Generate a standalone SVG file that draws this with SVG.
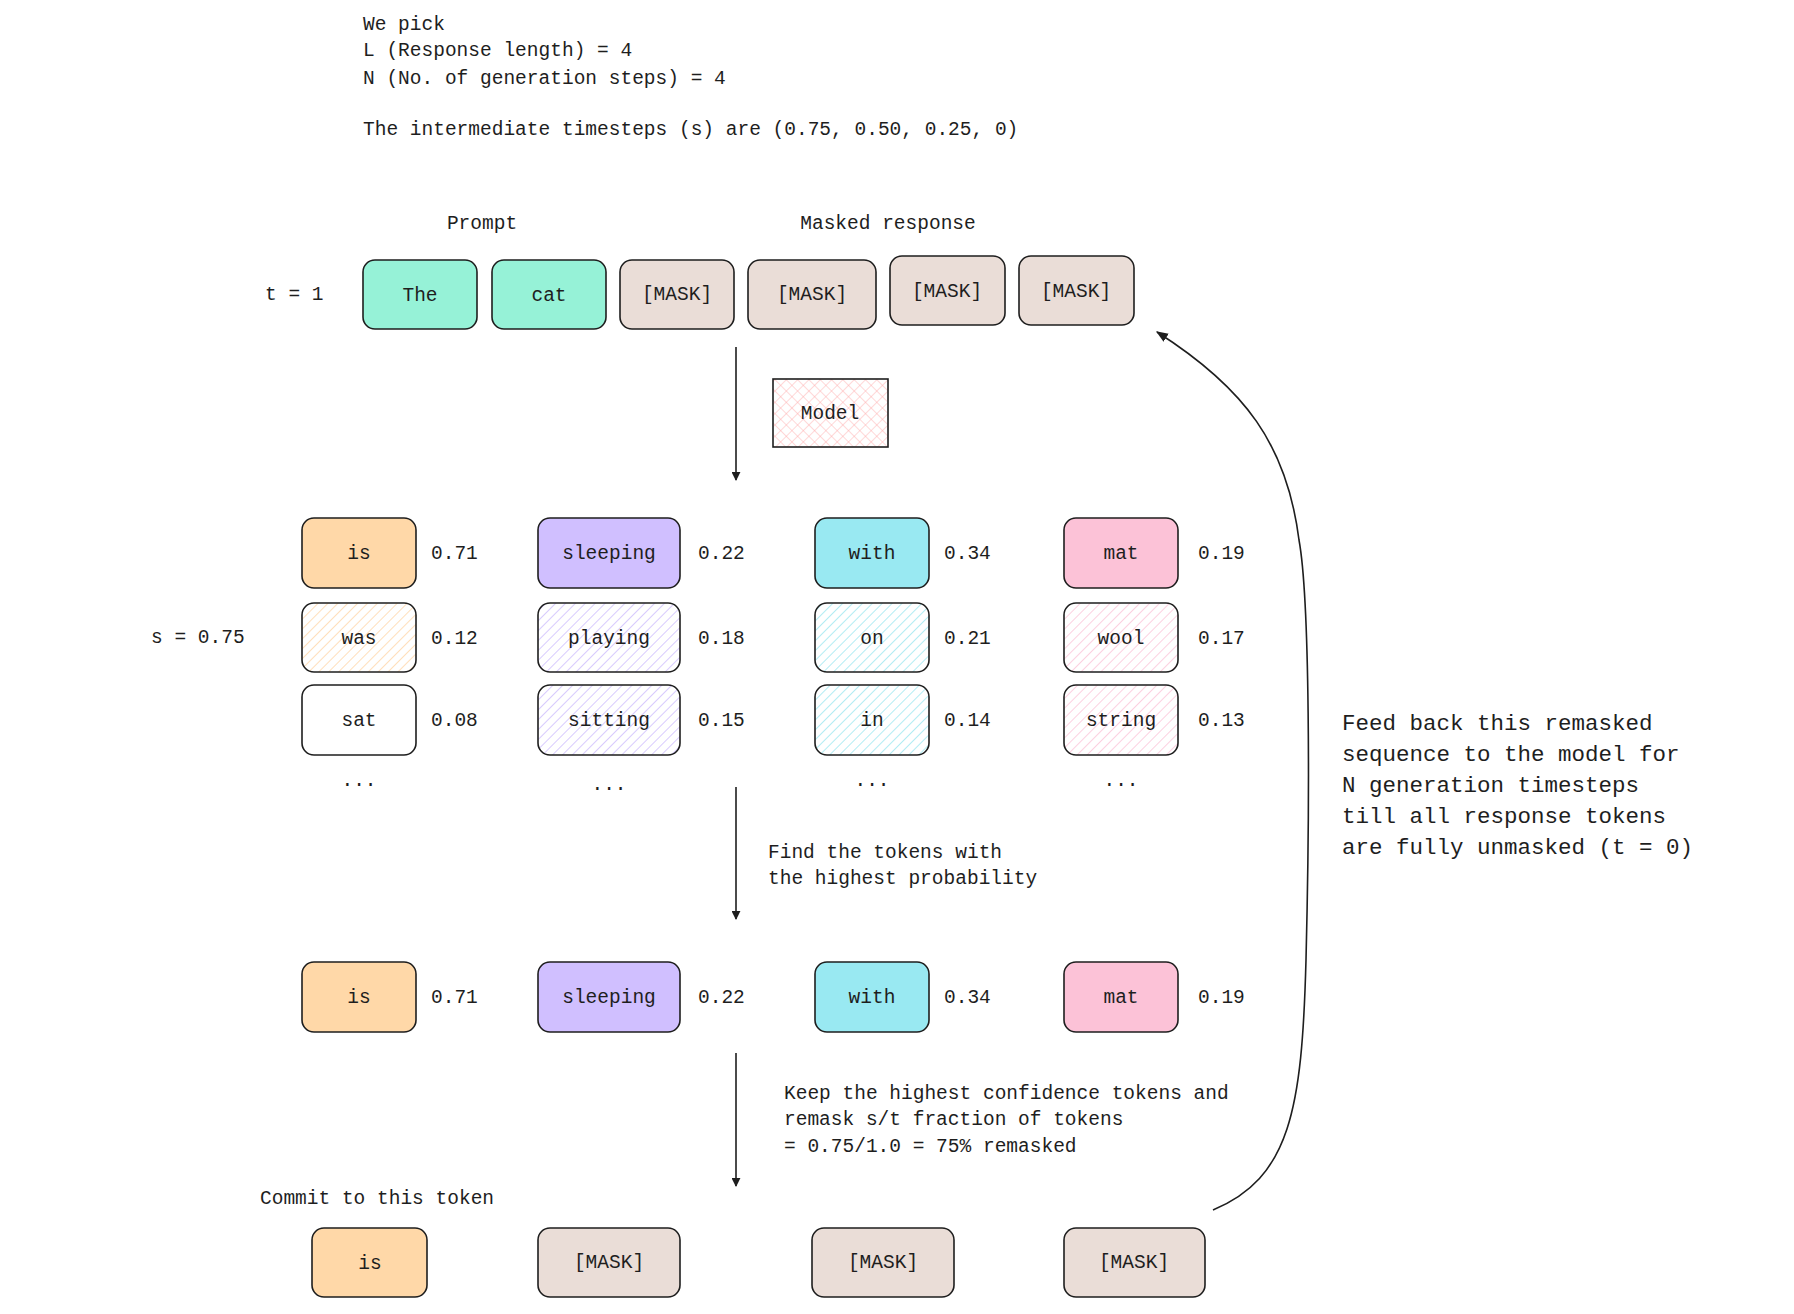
<svg xmlns="http://www.w3.org/2000/svg" width="1794" height="1314" viewBox="0 0 1794 1314">
<style>
text{font-family:"Liberation Mono","DejaVu Sans Mono",monospace;font-size:19.5px;fill:#1e1e1e;transform:translateY(1.5px)}
.c{text-anchor:middle;dominant-baseline:central}
.l{dominant-baseline:central}
.box{stroke:#1e1e1e;stroke-width:1.6}
.mint{fill:#96f2d7}.mask{fill:#eaddd7}.org{fill:#ffd8a8}.pur{fill:#d0bfff}.cy{fill:#99e9f2}.pk{fill:#fcc2d7}.wh{fill:#ffffff}
.conn{fill:none;stroke:#1e1e1e;stroke-width:1.6}
.big{font-size:22.5px}
</style>
<defs>
<pattern id="hO" patternUnits="userSpaceOnUse" width="7" height="7" patternTransform="rotate(45)"><line x1="0" y1="0" x2="0" y2="7" stroke="#ffc078" stroke-width="1"/></pattern>
<pattern id="hP" patternUnits="userSpaceOnUse" width="7" height="7" patternTransform="rotate(45)"><line x1="0" y1="0" x2="0" y2="7" stroke="#b197fc" stroke-width="1"/></pattern>
<pattern id="hC" patternUnits="userSpaceOnUse" width="7" height="7" patternTransform="rotate(45)"><line x1="0" y1="0" x2="0" y2="7" stroke="#66d9e8" stroke-width="1"/></pattern>
<pattern id="hK" patternUnits="userSpaceOnUse" width="7" height="7" patternTransform="rotate(45)"><line x1="0" y1="0" x2="0" y2="7" stroke="#faa2c1" stroke-width="1"/></pattern>
<pattern id="xR" patternUnits="userSpaceOnUse" width="8" height="8" patternTransform="rotate(45)"><line x1="0" y1="0" x2="0" y2="8" stroke="#ffa8a8" stroke-width="0.9"/><line x1="0" y1="0" x2="8" y2="0" stroke="#ffa8a8" stroke-width="0.9"/></pattern>
<marker id="arr" viewBox="0 0 10 10" refX="9" refY="5" markerWidth="9" markerHeight="9" markerUnits="userSpaceOnUse" orient="auto"><path d="M0,0 L10,5 L0,10 z" fill="#1e1e1e"/></marker>
<marker id="arr2" viewBox="0 0 10 10" refX="9" refY="5" markerWidth="12" markerHeight="12" markerUnits="userSpaceOnUse" orient="auto"><path d="M0,1 L10,5 L0,9 z" fill="#1e1e1e"/></marker>
</defs>
<rect width="1794" height="1314" fill="#ffffff"/>

<g id="header">
<text x="363" y="23" class="l">We pick</text>
<text x="363" y="49" class="l">L (Response length) = 4</text>
<text x="363" y="77" class="l">N (No. of generation steps) = 4</text>
<text x="363" y="128" class="l">The intermediate timesteps (s) are (0.75, 0.50, 0.25, 0)</text>
</g>

<g id="labels">
<text x="482" y="222" class="c">Prompt</text>
<text x="888" y="222" class="c">Masked response</text>
<text x="265" y="293" class="l">t = 1</text>
<text x="151" y="636" class="l">s = 0.75</text>
</g>

<g id="row-t1">
<g id="tok-the"><rect class="box mint" x="363" y="260" width="114" height="69" rx="12"/><text x="420" y="294" class="c">The</text></g>
<g id="tok-cat"><rect class="box mint" x="492" y="260" width="114" height="69" rx="12"/><text x="549" y="294" class="c">cat</text></g>
<g id="tok-m1"><rect class="box mask" x="620" y="260" width="114" height="69" rx="12"/><text x="677" y="293" class="c">[MASK]</text></g>
<g id="tok-m2"><rect class="box mask" x="748" y="260" width="128" height="69" rx="12"/><text x="812" y="293" class="c">[MASK]</text></g>
<g id="tok-m3"><rect class="box mask" x="890" y="256" width="115" height="69" rx="12"/><text x="947" y="290" class="c">[MASK]</text></g>
<g id="tok-m4"><rect class="box mask" x="1019" y="256" width="115" height="69" rx="12"/><text x="1076" y="290" class="c">[MASK]</text></g>
</g>

<g id="model"><rect x="773" y="379" width="115" height="68" fill="url(#xR)" stroke="#1e1e1e" stroke-width="1.6"/><text x="830" y="412" class="c">Model</text></g>

<g id="candidates">
<g id="c1r1"><rect class="box org" x="302" y="518" width="114" height="70" rx="12"/><text x="359" y="552" class="c">is</text><text x="431" y="552" class="l">0.71</text></g>
<g id="c1r2"><rect class="box" fill="url(#hO)" x="302" y="603" width="114" height="69" rx="12"/><text x="359" y="637" class="c">was</text><text x="431" y="637" class="l">0.12</text></g>
<g id="c1r3"><rect class="box wh" x="302" y="685" width="114" height="70" rx="12"/><text x="359" y="719" class="c">sat</text><text x="431" y="719" class="l">0.08</text></g>
<text x="359" y="779" class="c">...</text>

<g id="c2r1"><rect class="box pur" x="538" y="518" width="142" height="70" rx="12"/><text x="609" y="552" class="c">sleeping</text><text x="698" y="552" class="l">0.22</text></g>
<g id="c2r2"><rect class="box" fill="url(#hP)" x="538" y="603" width="142" height="69" rx="12"/><text x="609" y="637" class="c">playing</text><text x="698" y="637" class="l">0.18</text></g>
<g id="c2r3"><rect class="box" fill="url(#hP)" x="538" y="685" width="142" height="70" rx="12"/><text x="609" y="719" class="c">sitting</text><text x="698" y="719" class="l">0.15</text></g>
<text x="609" y="783" class="c">...</text>

<g id="c3r1"><rect class="box cy" x="815" y="518" width="114" height="70" rx="12"/><text x="872" y="552" class="c">with</text><text x="944" y="552" class="l">0.34</text></g>
<g id="c3r2"><rect class="box" fill="url(#hC)" x="815" y="603" width="114" height="69" rx="12"/><text x="872" y="637" class="c">on</text><text x="944" y="637" class="l">0.21</text></g>
<g id="c3r3"><rect class="box" fill="url(#hC)" x="815" y="685" width="114" height="70" rx="12"/><text x="872" y="719" class="c">in</text><text x="944" y="719" class="l">0.14</text></g>
<text x="872" y="779" class="c">...</text>

<g id="c4r1"><rect class="box pk" x="1064" y="518" width="114" height="70" rx="12"/><text x="1121" y="552" class="c">mat</text><text x="1198" y="552" class="l">0.19</text></g>
<g id="c4r2"><rect class="box" fill="url(#hK)" x="1064" y="603" width="114" height="69" rx="12"/><text x="1121" y="637" class="c">wool</text><text x="1198" y="637" class="l">0.17</text></g>
<g id="c4r3"><rect class="box" fill="url(#hK)" x="1064" y="685" width="114" height="70" rx="12"/><text x="1121" y="719" class="c">string</text><text x="1198" y="719" class="l">0.13</text></g>
<text x="1121" y="779" class="c">...</text>
</g>

<g id="note-find">
<text x="768" y="851" class="l">Find the tokens with</text>
<text x="768" y="877" class="l">the highest probability</text>
</g>

<g id="selected">
<g id="s1"><rect class="box org" x="302" y="962" width="114" height="70" rx="12"/><text x="359" y="996" class="c">is</text><text x="431" y="996" class="l">0.71</text></g>
<g id="s2"><rect class="box pur" x="538" y="962" width="142" height="70" rx="12"/><text x="609" y="996" class="c">sleeping</text><text x="698" y="996" class="l">0.22</text></g>
<g id="s3"><rect class="box cy" x="815" y="962" width="114" height="70" rx="12"/><text x="872" y="996" class="c">with</text><text x="944" y="996" class="l">0.34</text></g>
<g id="s4"><rect class="box pk" x="1064" y="962" width="114" height="70" rx="12"/><text x="1121" y="996" class="c">mat</text><text x="1198" y="996" class="l">0.19</text></g>
</g>

<g id="note-keep">
<text x="784" y="1092" class="l">Keep the highest confidence tokens and</text>
<text x="784" y="1118" class="l">remask s/t fraction of tokens</text>
<text x="784" y="1145" class="l">= 0.75/1.0 = 75% remasked</text>
</g>

<text x="260" y="1197" class="l">Commit to this token</text>

<g id="final">
<g id="f1"><rect class="box org" x="312" y="1228" width="115" height="69" rx="12"/><text x="370" y="1262" class="c">is</text></g>
<g id="f2"><rect class="box mask" x="538" y="1228" width="142" height="69" rx="12"/><text x="609" y="1261" class="c">[MASK]</text></g>
<g id="f3"><rect class="box mask" x="812" y="1228" width="142" height="69" rx="12"/><text x="883" y="1261" class="c">[MASK]</text></g>
<g id="f4"><rect class="box mask" x="1064" y="1228" width="141" height="69" rx="12"/><text x="1134" y="1261" class="c">[MASK]</text></g>
</g>

<g id="note-feed">
<text x="1342" y="722" class="l big">Feed back this remasked</text>
<text x="1342" y="753" class="l big">sequence to the model for</text>
<text x="1342" y="784" class="l big">N generation timesteps</text>
<text x="1342" y="815" class="l big">till all response tokens</text>
<text x="1342" y="846" class="l big">are fully unmasked (t = 0)</text>
</g>

<g id="connectors">
<line class="conn" x1="736" y1="347" x2="736" y2="480" marker-end="url(#arr)"/>
<line class="conn" x1="736" y1="787" x2="736" y2="919" marker-end="url(#arr)"/>
<line class="conn" x1="736" y1="1053" x2="736" y2="1186" marker-end="url(#arr)"/>
<path class="conn" d="M1213,1210 C1290,1178 1302,1110 1306,960 C1310,800 1310,600 1299,540 C1287,445 1245,388 1157,332" marker-end="url(#arr2)"/>
</g>
</svg>
